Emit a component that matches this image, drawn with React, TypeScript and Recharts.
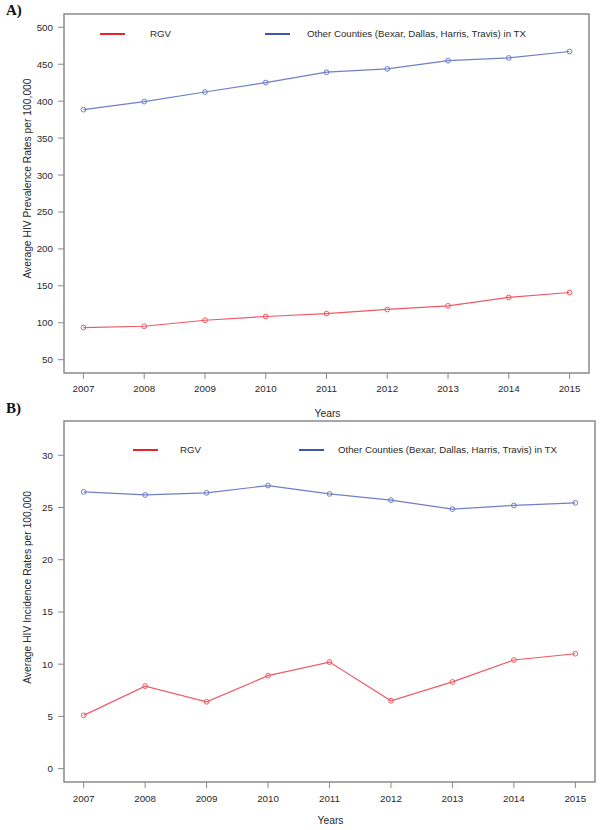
import React from 'react';
import { LineChart, Line, XAxis, YAxis, ReferenceArea } from 'recharts';

const years = [2007, 2008, 2009, 2010, 2011, 2012, 2013, 2014, 2015];
const prevalenceRGV = [93.5, 95.3, 103.4, 108.5, 112.5, 118.0, 122.9, 134.3, 141.0];
const prevalenceOther = [388.5, 399.4, 412.4, 425.2, 439.2, 443.7, 454.8, 458.5, 467.2];
const incidenceRGV = [5.1, 7.9, 6.4, 8.9, 10.2, 6.5, 8.3, 10.4, 11.0];
const incidenceOther = [26.5, 26.2, 26.4, 27.1, 26.3, 25.7, 24.85, 25.2, 25.45];
const prevalenceTicks = [50, 100, 150, 200, 250, 300, 350, 400, 450, 500];
const incidenceTicks = [0, 5, 10, 15, 20, 25, 30];
const seriesNames = ['RGV', 'Other Counties (Bexar, Dallas, Harris, Travis) in TX'];

const prevData = years.map((y, i) => ({ year: y, rgv: prevalenceRGV[i], other: prevalenceOther[i] }));
const incData = years.map((y, i) => ({ year: y, rgv: incidenceRGV[i], other: incidenceOther[i] }));

const FONT = '"Liberation Sans", Arial, Helvetica, sans-serif';
const RED = '#ef5a64';
const BLUE = '#6f7fc8';
const LEG_RED = '#e8232c';
const LEG_BLUE = '#4254b0';
const BOX = '#8a8a8a';
const TXT = '#2a2a2a';
const XDOM: [number, number] = [2006.68, 2015.32];

const tickStyle = { fontSize: 9.8, fill: TXT, fontFamily: FONT };

function yTitle(text: string, dyOff: number) {
  return (props: any) => {
    const vb = props.viewBox || {};
    const x = 27;
    const y = vb.y + vb.height / 2 + dyOff;
    return (
      <text x={x} y={y} transform={`rotate(-90 ${x} ${y})`} textAnchor="middle" dominantBaseline="central"
        style={{ fontSize: 10.3, fill: TXT, fontFamily: FONT }}>{text}</text>
    );
  };
}

function xTitle(text: string, dy: number) {
  return (props: any) => {
    const vb = props.viewBox || {};
    return (
      <text x={vb.x + vb.width / 2 + 1} y={vb.y + dy} textAnchor="middle" dominantBaseline="central"
        style={{ fontSize: 10.3, fill: TXT, fontFamily: FONT }}>{text}</text>
    );
  };
}

function LegendOverlay({ top, redX, redTextX, blueX, blueTextX }: any) {
  const item = (color: string, lx: number, tx: number, label: string) => (
    <React.Fragment key={label}>
      <div style={{ position: 'absolute', left: lx, top: top - 1, width: 25, height: 2, background: color }} />
      <div style={{ position: 'absolute', left: tx, top: top - 7, fontSize: 9.7, lineHeight: '13px', fontFamily: FONT, color: TXT, whiteSpace: 'nowrap' }}>{label}</div>
    </React.Fragment>
  );
  return (
    <>
      {item(LEG_RED, redX, redTextX, seriesNames[0])}
      {item(LEG_BLUE, blueX, blueTextX, seriesNames[1])}
    </>
  );
}

const panelLabel = (text: string, top: number) => (
  <div style={{ position: 'absolute', left: 6, top, fontFamily: '"Liberation Serif", "Times New Roman", serif', fontWeight: 'bold', fontSize: 15, color: '#111' }}>{text}</div>
);

export default function App() {
  return (
    <div style={{ position: 'absolute', left: 0, top: 0, width: 600, height: 830, background: '#fff', overflow: 'hidden' }}>
      <div style={{ position: 'absolute', left: 0, top: 0 }}>
        <LineChart width={600} height={418} data={prevData} margin={{ top: 14, right: 11, bottom: 0, left: 0 }}>
          <XAxis dataKey="year" type="number" domain={XDOM} ticks={years} allowDataOverflow
            axisLine={false} tickLine={{ stroke: BOX }} tickSize={6} tickMargin={6} height={45}
            tick={tickStyle} label={xTitle('Years', 40)} />
          <YAxis type="number" domain={[32, 518]} ticks={prevalenceTicks} allowDataOverflow width={64}
            axisLine={false} tickLine={{ stroke: BOX }} tickSize={6} tickMargin={5}
            tick={tickStyle} label={yTitle('Average HIV Prevalence Rates per 100,000', -15)} />
          <ReferenceArea x1={XDOM[0]} x2={XDOM[1]} y1={32} y2={518} fill="none" fillOpacity={0} stroke={BOX} strokeWidth={1.5} ifOverflow="visible" />
          <Line dataKey="rgv" stroke={RED} strokeWidth={1.2} isAnimationActive={false}
            dot={{ r: 2.4, stroke: RED, strokeWidth: 1, fill: 'none' }} activeDot={false} />
          <Line dataKey="other" stroke={BLUE} strokeWidth={1.2} isAnimationActive={false}
            dot={{ r: 2.4, stroke: BLUE, strokeWidth: 1, fill: 'none' }} activeDot={false} />
        </LineChart>
      </div>
      <div style={{ position: 'absolute', left: 0, top: 400 }}>
        <LineChart width={600} height={430} data={incData} margin={{ top: 21, right: 5, bottom: 0, left: 0 }}>
          <XAxis dataKey="year" type="number" domain={XDOM} ticks={years} allowDataOverflow
            axisLine={false} tickLine={{ stroke: BOX }} tickSize={6} tickMargin={7} height={48}
            tick={tickStyle} label={xTitle('Years', 38)} />
          <YAxis type="number" domain={[-1.28, 33.28]} ticks={incidenceTicks} allowDataOverflow width={64}
            axisLine={false} tickLine={{ stroke: BOX }} tickSize={6} tickMargin={5}
            tick={tickStyle} label={yTitle('Average HIV Incidence Rates per 100,000', -14)} />
          <ReferenceArea x1={XDOM[0]} x2={XDOM[1]} y1={-1.28} y2={33.28} fill="none" fillOpacity={0} stroke={BOX} strokeWidth={1.5} ifOverflow="visible" />
          <Line dataKey="rgv" stroke={RED} strokeWidth={1.2} isAnimationActive={false}
            dot={{ r: 2.4, stroke: RED, strokeWidth: 1, fill: 'none' }} activeDot={false} />
          <Line dataKey="other" stroke={BLUE} strokeWidth={1.2} isAnimationActive={false}
            dot={{ r: 2.4, stroke: BLUE, strokeWidth: 1, fill: 'none' }} activeDot={false} />
        </LineChart>
      </div>
      {panelLabel('A)', 2)}
      {panelLabel('B)', 400)}
      <LegendOverlay top={34} redX={100} redTextX={150} blueX={265} blueTextX={307} />
      <LegendOverlay top={450} redX={133} redTextX={180} blueX={299} blueTextX={338} />
    </div>
  );
}
